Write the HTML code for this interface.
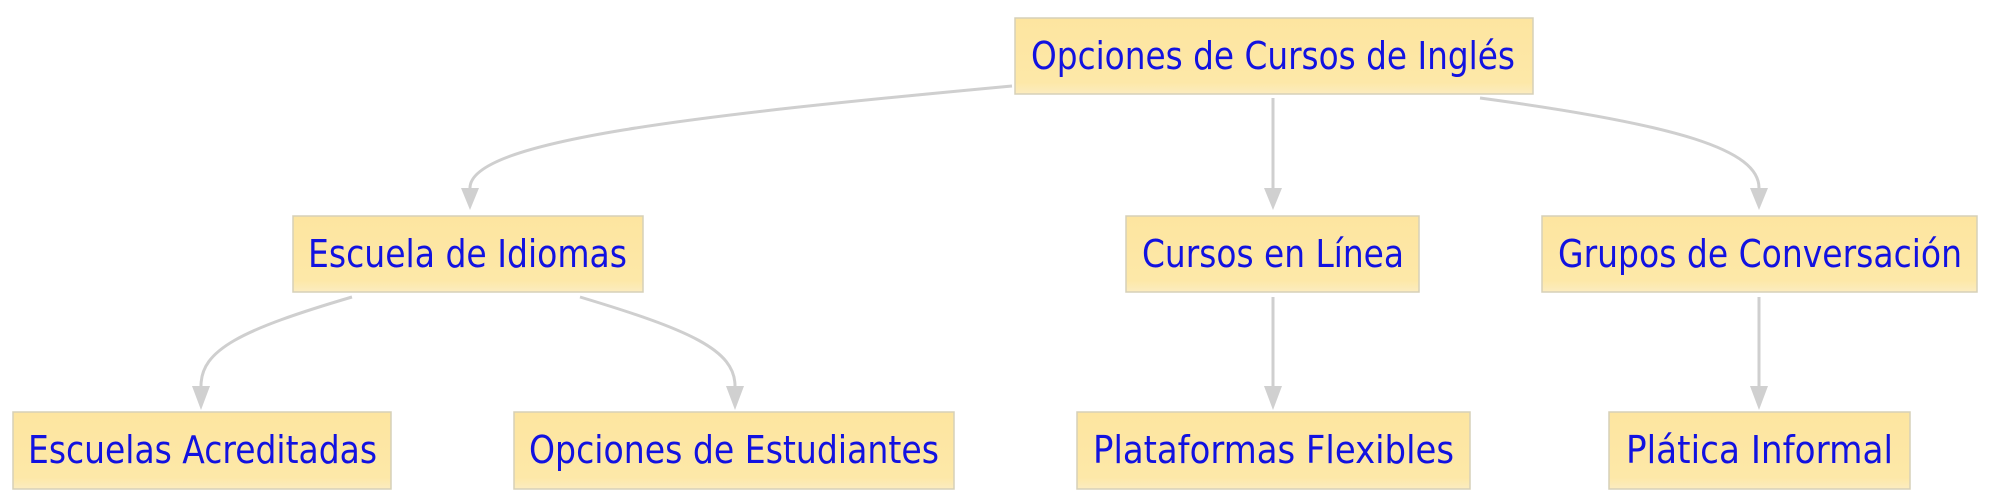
<!DOCTYPE html>
<html><head><meta charset="utf-8"><style>
html,body{margin:0;padding:0;background:#fff;width:1990px;height:502px;overflow:hidden}
text{font-family:"DejaVu Sans","Liberation Sans",sans-serif;font-size:38px;fill:#1212e0}
</style></head><body>
<svg width="1990" height="502" viewBox="0 0 1990 502" xmlns="http://www.w3.org/2000/svg">
<defs>
<linearGradient id="g" x1="0" y1="0" x2="0" y2="1">
<stop offset="0" stop-color="#fde5a0"/><stop offset="0.85" stop-color="#fde8a8"/><stop offset="1" stop-color="#fcecc0"/>
</linearGradient>
</defs>
<g fill="none" stroke="#cfcfcf" stroke-width="3">
<path d="M1012,86 C700,115 470,140 470,188"/>
<path d="M1480,98 C1680,125 1759,150 1759,188"/>
<path d="M1273,98 L1273,188"/>
<path d="M352,297 C240,330 201,350 201,386"/>
<path d="M580,297 C690,330 735,350 735,386"/>
<path d="M1273,297 L1273,386"/>
<path d="M1759,297 L1759,386"/>
</g>
<g fill="#d0d0d0">
<path d="M461,188 L479,188 L470,210Z"/>
<path d="M1750,188 L1768,188 L1759,210Z"/>
<path d="M1264,188 L1282,188 L1273,210Z"/>
<path d="M192,386 L210,386 L201,410Z"/>
<path d="M726,386 L744,386 L735,410Z"/>
<path d="M1264,386 L1282,386 L1273,410Z"/>
<path d="M1750,386 L1768,386 L1759,410Z"/>
</g>
<g fill="url(#g)" stroke="#d6d0b8" stroke-width="1.5">
<rect x="1015" y="18" width="518" height="76"/>
<rect x="293" y="216" width="350" height="76"/>
<rect x="1126" y="216" width="293" height="76"/>
<rect x="1542" y="216" width="435" height="76"/>
<rect x="13" y="412" width="378" height="77"/>
<rect x="514" y="412" width="440" height="77"/>
<rect x="1077" y="412" width="393" height="77"/>
<rect x="1609" y="412" width="301" height="77"/>
</g>
<text x="1031" y="69" textLength="484" lengthAdjust="spacingAndGlyphs">Opciones de Cursos de Inglés</text>
<text x="308" y="267" textLength="319" lengthAdjust="spacingAndGlyphs">Escuela de Idiomas</text>
<text x="1142" y="267" textLength="262" lengthAdjust="spacingAndGlyphs">Cursos en Línea</text>
<text x="1558" y="267" textLength="404" lengthAdjust="spacingAndGlyphs">Grupos de Conversación</text>
<text x="28" y="463" textLength="349" lengthAdjust="spacingAndGlyphs">Escuelas Acreditadas</text>
<text x="529" y="463" textLength="410" lengthAdjust="spacingAndGlyphs">Opciones de Estudiantes</text>
<text x="1093" y="463" textLength="361" lengthAdjust="spacingAndGlyphs">Plataformas Flexibles</text>
<text x="1626" y="463" textLength="267" lengthAdjust="spacingAndGlyphs">Plática Informal</text>
</svg>
</body></html>
